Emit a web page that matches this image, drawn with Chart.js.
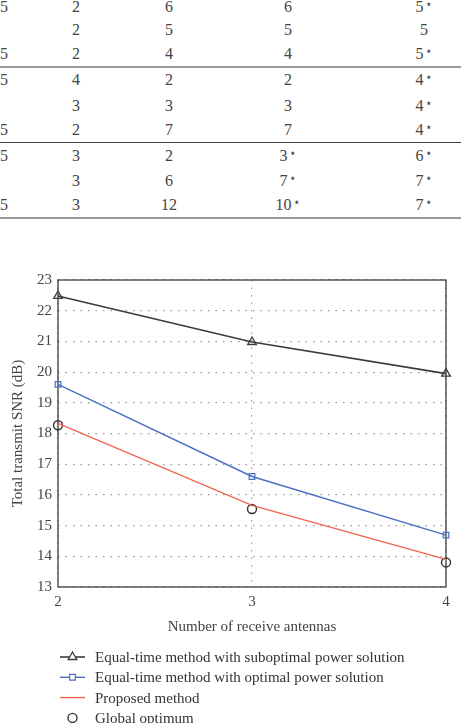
<!DOCTYPE html>
<html>
<head>
<meta charset="utf-8">
<script src="https://cdn.jsdelivr.net/npm/chart.js@4.4.0/dist/chart.umd.min.js"></script>
<style>
  body { margin: 0; width: 461px; height: 723px; overflow: hidden; background: #fff;
         position: relative; font-family: "Liberation Serif", serif; color: #444; }
  .cell { position: absolute; font-size: 16px; line-height: 12px; white-space: nowrap;
          transform: translate(-50%, -50%); }
  .cell sup { font-size: 12px; vertical-align: 4px; line-height: 0; margin-left: 1px; }
  .first { transform: translate(0, -50%); }
  .rule { position: absolute; left: 0; width: 461px; }
  #wrap { position: absolute; left: 0; top: 250px; width: 461px; height: 473px; }
</style>
</head>
<body>
<div id="table"></div>
<div id="wrap"><canvas id="chart" width="461" height="473"></canvas></div>
<script>
// table fragment above the figure
const colFirst = ["5", "", "5", "5", "", "5", "5", "", "5"];
const colSecond = ["2", "2", "2", "4", "3", "2", "3", "3", "3"];
const colThird = ["6", "5", "4", "2", "3", "7", "2", "6", "12"];
const colFourth = ["6", "5", "4", "2", "3", "7", "3*", "7*", "10*"];
const colFifth = ["5*", "5", "5*", "4*", "4*", "4*", "6*", "7*", "7*"];

// figure data
const antennas = [2, 3, 4];
const suboptimalPower = [22.48, 20.98, 19.95];
const optimalPower = [19.6, 16.6, 14.69];
const proposed = [18.33, 15.66, 13.9];
const globalOptimum = [18.27, 15.54, 13.8];
const seriesNames = [
  "Equal-time method with suboptimal power solution",
  "Equal-time method with optimal power solution",
  "Proposed method",
  "Global optimum",
];

const rowY = [7, 30, 54, 80, 106, 130, 156, 181, 205];
const colX = [0, 76, 169, 288, 424];
const table = document.getElementById("table");

function cellHtml(s) {
  if (s.endsWith("*")) return s.slice(0, -1) + "<sup>\u22C6</sup>";
  return s;
}

[colFirst, colSecond, colThird, colFourth, colFifth].forEach((col, c) => {
  col.forEach((v, r) => {
    if (!v) return;
    const d = document.createElement("div");
    d.className = c === 0 ? "cell first" : "cell";
    d.style.left = colX[c] + "px";
    d.style.top = rowY[r] + "px";
    d.innerHTML = cellHtml(v);
    table.appendChild(d);
  });
});

[[67, 2, "#9a9a9a"], [142, 1, "#444"], [218, 2, "#9a9a9a"]].forEach(([y, h, col]) => {
  const d = document.createElement("div");
  d.className = "rule";
  d.style.top = (y - h / 2) + "px";
  d.style.height = h + "px";
  d.style.background = col;
  table.appendChild(d);
});

function points(ys) {
  return antennas.map((x, i) => ({ x: x, y: ys[i] }));
}

const serif = "'Liberation Serif', serif";

const boxPlugin = {
  id: "box",
  beforeDatasetsDraw(chart) {
    const a = chart.chartArea;
    const ctx = chart.ctx;
    ctx.save();
    ctx.strokeStyle = "#3a3a3a";
    ctx.lineWidth = 1.3;
    ctx.strokeRect(a.left, a.top, a.right - a.left, a.bottom - a.top);
    ctx.restore();
  },
  afterDraw(chart) {
    // legend below the axis title: short line sample with the marker in the middle
    const ctx = chart.ctx;
    const top = chart.scales.x.bottom + 21;
    ctx.save();
    ctx.font = "15px " + serif;
    ctx.textBaseline = "middle";
    chart.data.datasets.forEach((ds, i) => {
      const y = top + i * 20.3;
      if (ds.showLine !== false) {
        ctx.strokeStyle = ds.borderColor;
        ctx.lineWidth = ds.borderWidth;
        ctx.beginPath();
        ctx.moveTo(60, y);
        ctx.lineTo(85, y);
        ctx.stroke();
      }
      if (ds.pointRadius > 0) {
        ctx.strokeStyle = ds.pointBorderColor;
        ctx.fillStyle = "#fff";
        ctx.lineWidth = ds.pointBorderWidth;
        Chart.helpers.drawPoint(ctx, {
          pointStyle: ds.pointStyle,
          radius: ds.pointRadius,
          borderWidth: ds.pointBorderWidth,
        }, 72.5, y);
      }
      ctx.fillStyle = "#333";
      ctx.fillText(ds.label, 95, y + 1);
    });
    ctx.restore();
  },
};

new Chart(document.getElementById("chart"), {
  type: "scatter",
  data: {
    datasets: [
      {
        label: seriesNames[0],
        data: points(suboptimalPower),
        showLine: true,
        borderColor: "#3c3c3c",
        borderWidth: 1.6,
        pointStyle: "triangle",
        pointRadius: 5,
        pointBorderWidth: 1.3,
        pointBorderColor: "#3c3c3c",
        pointBackgroundColor: "rgba(0,0,0,0)",
      },
      {
        label: seriesNames[1],
        data: points(optimalPower),
        showLine: true,
        borderColor: "#4a70c4",
        borderWidth: 1.4,
        pointStyle: "rect",
        pointRadius: 4,
        pointBorderWidth: 1.2,
        pointBorderColor: "#4a70c4",
        pointBackgroundColor: "rgba(0,0,0,0)",
      },
      {
        label: seriesNames[2],
        data: points(proposed),
        showLine: true,
        borderColor: "#f0654f",
        borderWidth: 1.4,
        pointRadius: 0,
        pointBorderWidth: 0,
      },
      {
        label: seriesNames[3],
        data: points(globalOptimum),
        showLine: false,
        borderColor: "#333",
        pointStyle: "circle",
        pointRadius: 4.5,
        pointBorderWidth: 1.4,
        pointBorderColor: "#333",
        pointBackgroundColor: "rgba(0,0,0,0)",
      },
    ],
  },
  plugins: [boxPlugin],
  options: {
    responsive: false,
    animation: false,
    clip: false,
    layout: { padding: { top: 30, right: 15, left: 0, bottom: 87 } },
    plugins: { legend: { display: false }, tooltip: { enabled: false } },
    scales: {
      x: {
        type: "linear",
        min: 2,
        max: 4,
        ticks: { stepSize: 1, padding: 6, color: "#444", font: { family: serif, size: 15 } },
        grid: { color: "#9a9a9a", lineWidth: 1.2, drawTicks: false },
        border: { display: false, dash: [1.5, 6] },
        title: {
          display: true,
          text: "Number of receive antennas",
          color: "#444",
          padding: { top: 1, bottom: 0 },
          font: { family: serif, size: 15 },
        },
      },
      y: {
        min: 13,
        max: 23,
        afterFit(scale) { scale.width = 58; },
        ticks: { stepSize: 1, padding: 6, color: "#444", font: { family: serif, size: 15 } },
        grid: { color: "#9a9a9a", lineWidth: 1.2, drawTicks: false },
        border: { display: false, dash: [1.5, 6] },
        title: {
          display: true,
          text: "Total transmit SNR (dB)",
          color: "#444",
          padding: { top: 9, bottom: 0 },
          font: { family: serif, size: 15 },
        },
      },
    },
  },
});
</script>
</body>
</html>
